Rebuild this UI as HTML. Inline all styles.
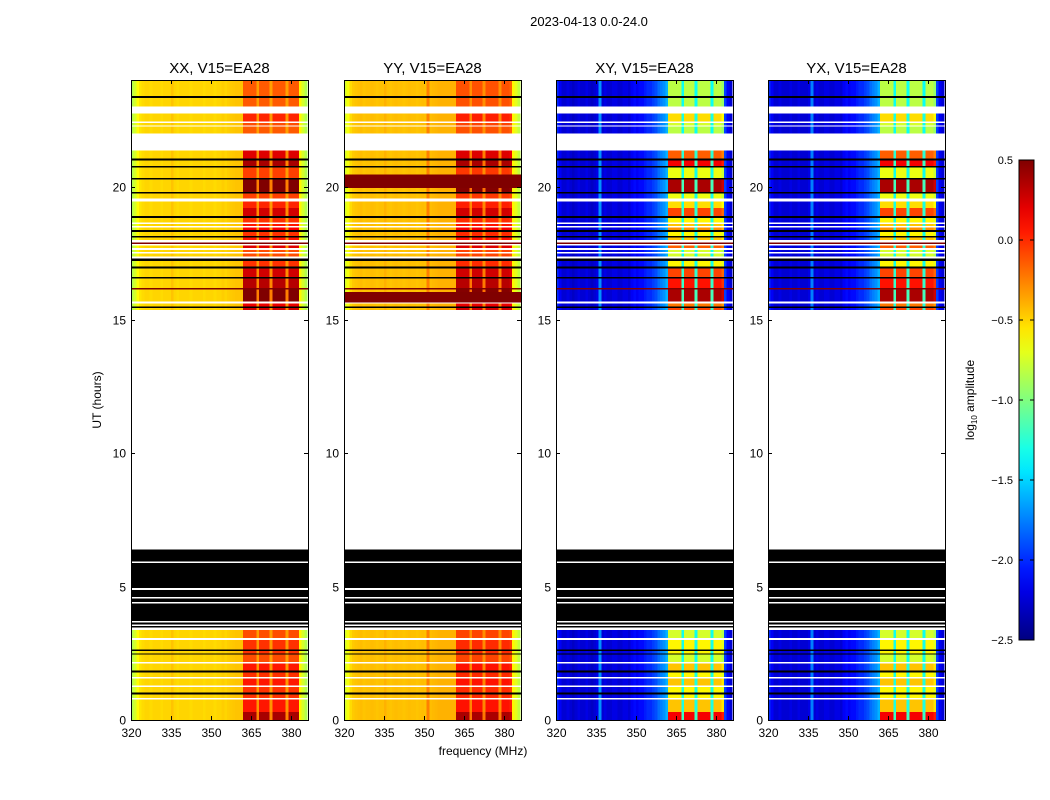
<!DOCTYPE html>
<html><head><meta charset="utf-8"><style>
body{margin:0;background:#fff;}
svg{display:block;font-family:"Liberation Sans","DejaVu Sans",sans-serif;}
</style></head><body>
<svg id="fig" width="1050" height="800" viewBox="0 0 1050 800">
<text x="589" y="26" font-size="13" text-anchor="middle">2023-04-13 0.0-24.0</text>
<text x="483" y="755" font-size="12" text-anchor="middle">frequency (MHz)</text>
<text transform="translate(101,400) rotate(-90)" font-size="12" text-anchor="middle">UT (hours)</text>
<g id="panels"></g>
<g id="cbar"></g>
<text transform="translate(974,400) rotate(-90)" font-size="12" text-anchor="middle">log<tspan font-size="8" dy="3">10</tspan><tspan dy="-3"> amplitude</tspan></text>
</svg>
<script>
// ---- data ----
const panelTitles = ["XX, V15=EA28","YY, V15=EA28","XY, V15=EA28","YX, V15=EA28"];
const freqStart = 320;
const freqTicks = [320,335,350,365,380];
const timeTicks = [0,5,10,15,20];
const cbarTicks = [0.5,0.0,-0.5,-1.0,-1.5,-2.0,-2.5];
const cbarLabels = ["0.5","0.0","\u22120.5","\u22121.0","\u22121.5","\u22122.0","\u22122.5"];
const xxBase = [-0.85,-0.75,-0.62,-0.55,-0.52,-0.5,-0.5,-0.52,-0.5,-0.5,
 -0.5,-0.52,-0.5,-0.5,-0.5,-0.45,-0.5,-0.52,-0.5,-0.5,
 -0.5,-0.5,-0.52,-0.5,-0.5,-0.5,-0.5,-0.52,-0.5,-0.5,
 -0.5,-0.52,-0.5,-0.5,-0.48,-0.5,-0.48,-0.47,-0.46,-0.45,
 -0.45,-0.45,-0.5,-0.5,-0.5,-0.5,-0.5,-0.4,-0.5,-0.5,
 -0.5,-0.5,-0.4,-0.5,-0.5,-0.5,-0.5,-0.5,-0.4,-0.5,
 -0.5,-0.5,-0.5,-0.6,-0.75,-0.85];
const yyBase = [-0.75,-0.65,-0.52,-0.47,-0.45,-0.44,-0.43,-0.45,-0.44,-0.44,
 -0.43,-0.44,-0.45,-0.44,-0.44,-0.4,-0.44,-0.45,-0.44,-0.43,
 -0.44,-0.44,-0.45,-0.44,-0.43,-0.44,-0.44,-0.45,-0.44,-0.43,
 -0.44,-0.25,-0.43,-0.42,-0.41,-0.4,-0.4,-0.4,-0.4,-0.4,
 -0.4,-0.4,-0.45,-0.45,-0.45,-0.45,-0.45,-0.35,-0.45,-0.45,
 -0.45,-0.45,-0.35,-0.45,-0.45,-0.45,-0.45,-0.45,-0.35,-0.45,
 -0.45,-0.45,-0.5,-0.6,-0.7,-0.8];
const xyBase = [-2.0,-2.15,-2.25,-2.25,-2.2,-2.25,-2.3,-2.25,-2.2,-2.25,
 -2.25,-2.2,-2.25,-2.3,-2.25,-2.2,-1.7,-2.25,-2.2,-2.25,
 -2.25,-2.2,-2.2,-2.25,-2.25,-2.2,-2.2,-2.25,-2.15,-2.1,
 -2.15,-2.1,-2.1,-2.05,-2.0,-2.0,-1.95,-1.9,-1.8,-1.75,
 -1.7,-1.6,-1.5,-1.5,-1.5,-1.5,-1.5,-1.45,-1.5,-1.5,
 -1.5,-1.5,-1.45,-1.5,-1.5,-1.5,-1.5,-1.5,-1.45,-1.5,
 -1.5,-1.5,-1.6,-1.95,-2.15,-2.25];
const yxBase = [-2.0,-2.15,-2.25,-2.25,-2.2,-2.25,-2.25,-2.25,-2.2,-2.25,
 -2.25,-2.2,-2.25,-2.25,-2.25,-2.2,-1.75,-2.25,-2.2,-2.25,
 -2.25,-2.2,-2.2,-2.25,-2.25,-2.2,-2.2,-2.25,-2.15,-2.1,
 -2.15,-2.1,-2.1,-2.05,-2.0,-2.0,-1.95,-1.9,-1.8,-1.75,
 -1.7,-1.6,-1.5,-1.5,-1.5,-1.5,-1.5,-1.45,-1.5,-1.5,
 -1.5,-1.5,-1.45,-1.5,-1.5,-1.5,-1.5,-1.5,-1.45,-1.5,
 -1.5,-1.5,-1.6,-1.95,-2.15,-2.25];
const bandShape = [0,0,0,0,0,0,0,0,0,0, 0,0,0,0,0,0,0,0,0,0,
 0,0,0,0,0,0,0,0,0,0, 0,0,0,0,0,0,0,0,0,0,
 0,0,1,1,1,1,1,0.15,1,1, 1,1,0.15,1,1,1,1,1,0.15,1,
 1,1,1,0,0,0];
const bandAmp = [0.8,0.75,1.5,1.5];
const segStart = [23.4,23.33,23.0,22.75,22.45,22.38,22.3,22.25,22.0,21.35,21.05,20.98,20.78,20.72,20.33,20.27,19.8,19.74,19.55,19.45,19.2,18.9,18.82,18.65,18.6,18.52,18.47,18.38,18.3,18.15,18.1,18.0,17.9,17.85,17.8,17.7,17.62,17.55,17.5,17.38,17.3,17.22,17.0,16.93,16.62,16.55,16.2,16.15,15.7,15.62,15.5,15.45,15.38,6.4,
 5.95,5.88,4.95,4.88,4.62,4.55,4.42,4.36,3.72,3.66,3.58,3.52,3.46,3.38,3.08,3.0,2.65,2.58,2.5,2.45,2.18,2.12,1.85,1.78,1.62,1.56,1.3,1.24,1.03,0.96,0.82,0.76,0.3,0];
const segType = ["d","k","d","w","d","w","d","w","d","w","d","k","d","k","d","k","d","k","d","w","d","d","k","d","w","d","w","d","k","d","k","d","w","r","w","d","w","d","w","d","w","k","d","k","d","k","d","r","d","w","d","k","d","w",
 "k","w","k","w","k","w","k","w","k","w","k","w","k","w","d","w","d","k","d","k","d","w","d","k","d","w","d","w","d","k","d","w","d","d"];
const segRfi = [0.45,0,0.45,0,0.65,0,0.5,0,0.45,0,0.9,0,1.1,0,0.55,0,1.25,0,0.55,0,0.65,0.95,0,0.6,0,0.7,0,0.8,0,0.6,0,0.7,0,0,0,0.9,0,0.5,0,0.5,0,0,0.6,0,0.95,0,1.05,0,1.25,0,0.85,0,0.95,0,
 0,0,0,0,0,0,0,0,0,0,0,0,0,0,0.5,0,0.6,0,0.6,0,0.5,0,0.7,0,0.6,0,0.7,0,0.6,0,0.6,0,0.7,1.1];
const yyBroadStart = [19.95,15.65];
const yyBroadEnd = [20.45,16.05];
const yyBroadValue = [0.6,0.6];

// ---- layout ----
const panelX = [131,344,556,768], PW = 177, PT = 80, PB = 720;
const fMin = 320, fMax = 386.4, tMin = 0, tMax = 24;
const vMin = -2.5, vMax = 0.5;
const NS = "http://www.w3.org/2000/svg";
function xs(p,f){return panelX[p] + (f - fMin)/(fMax - fMin)*PW;}
function ys(t){return PB - (t - tMin)/(tMax - tMin)*(PB - PT);}
function cl(v){return Math.max(0,Math.min(1,v));}
function jet(v){
  const t = cl((v - vMin)/(vMax - vMin));
  const r=cl(1.5-Math.abs(4*t-3)), g=cl(1.5-Math.abs(4*t-2)), b=cl(1.5-Math.abs(4*t-1));
  return "rgb("+Math.round(r*255)+","+Math.round(g*255)+","+Math.round(b*255)+")";
}
function mk(tag, attrs, parent){
  const e = document.createElementNS(NS, tag);
  for (const k in attrs) e.setAttribute(k, attrs[k]);
  parent.appendChild(e); return e;
}
const bases = [xxBase, yyBase, xyBase, yxBase];
const root = document.getElementById("panels");
for (let p=0;p<4;p++){
  const g = mk("g",{}, root);
  
  
  const hm = mk("g",{"shape-rendering":"crispEdges"}, g);
  
  
  const base = bases[p];
  for (let s=0;s<segStart.length;s++){
    const t0 = segStart[s], t1 = (s===0)?24:segStart[s-1];
    const y0 = ys(t1), y1 = ys(t0), ty = segType[s];
    if (ty==="w") continue;
    if (ty==="k" || ty==="r"){
      const r = mk("rect",{x:panelX[p],y:y0,width:PW,height:y1-y0,fill:ty==="k"?"#000":jet(0.5)}, hm);
      
      
      continue;
    }
    for (let c=0;c<base.length;c++){
      const f0 = freqStart + c, f1 = Math.min(fMax, f0+1);
      const v = base[c] + bandShape[c]*segRfi[s]*bandAmp[p];
      const r = mk("rect",{x:xs(p,f0),y:y0,width:xs(p,f1)-xs(p,f0)+0.5,height:y1-y0,fill:jet(v)}, hm);
      
      
    }
  }
  if (p===1){
    for (let i=0;i<yyBroadStart.length;i++){
      const r = mk("rect",{x:panelX[p],y:ys(yyBroadEnd[i]),width:PW,height:ys(yyBroadStart[i])-ys(yyBroadEnd[i]),fill:jet(yyBroadValue[i])}, hm);
      
      
    }
  }
  const fr = mk("rect",{x:panelX[p]+0.5,y:PT+0.5,width:PW,height:PB-PT,fill:"none",stroke:"#000","stroke-width":1}, g);
  
  
  const tt = mk("text",{x:panelX[p]+PW/2,y:PT-7,"font-size":15,"text-anchor":"middle"}, g);
  tt.textContent = panelTitles[p];
  
  
  for (const f of freqTicks){
    const x = Math.round(xs(p,f))+0.5;
    mk("line",{x1:x,x2:x,y1:PB,y2:PB-4,stroke:"#000"}, g);
    mk("line",{x1:x,x2:x,y1:PT,y2:PT+4,stroke:"#000"}, g);
    const l = mk("text",{x:x,y:PB+17,"font-size":12,"text-anchor":"middle"}, g);
    l.textContent = f;
    
    
  }
  for (const t of timeTicks){
    const y = Math.round(ys(t))+0.5;
    mk("line",{x1:panelX[p],x2:panelX[p]+4,y1:y,y2:y,stroke:"#000"}, g);
    mk("line",{x1:panelX[p]+PW,x2:panelX[p]+PW-4,y1:y,y2:y,stroke:"#000"}, g);
    const l = mk("text",{x:panelX[p]-5,y:y+4,"font-size":12,"text-anchor":"end"}, g);
    l.textContent = t;
    
    
  }
}
// colorbar
const cb = document.getElementById("cbar");
const CBX = 1019, CBW = 15, CBT = 160, CBB = 640;
function cy(v){return CBB - (v - vMin)/(vMax - vMin)*(CBB - CBT);}
const grad = mk("defs",{}, cb);
const lg = mk("linearGradient",{id:"jetg",x1:0,y1:1,x2:0,y2:0}, grad);
for (let i=0;i<=20;i++){ mk("stop",{offset:(i/20),"stop-color":jet(vMin+(vMax-vMin)*i/20)}, lg); }
const cr = mk("rect",{x:CBX,y:CBT,width:CBW,height:CBB-CBT,fill:"url(#jetg)",stroke:"#000","stroke-width":1}, cb);


for (let i=0;i<cbarTicks.length;i++){
  const y = cy(cbarTicks[i]);
  mk("line",{x1:CBX,x2:CBX+4,y1:y,y2:y,stroke:"#000"}, cb);
  mk("line",{x1:CBX+CBW,x2:CBX+CBW-4,y1:y,y2:y,stroke:"#000"}, cb);
  const l = mk("text",{x:CBX-6,y:y+4,"font-size":11,"text-anchor":"end"}, cb);
  l.textContent = cbarLabels[i];
  
  
}
</script>
</body></html>
